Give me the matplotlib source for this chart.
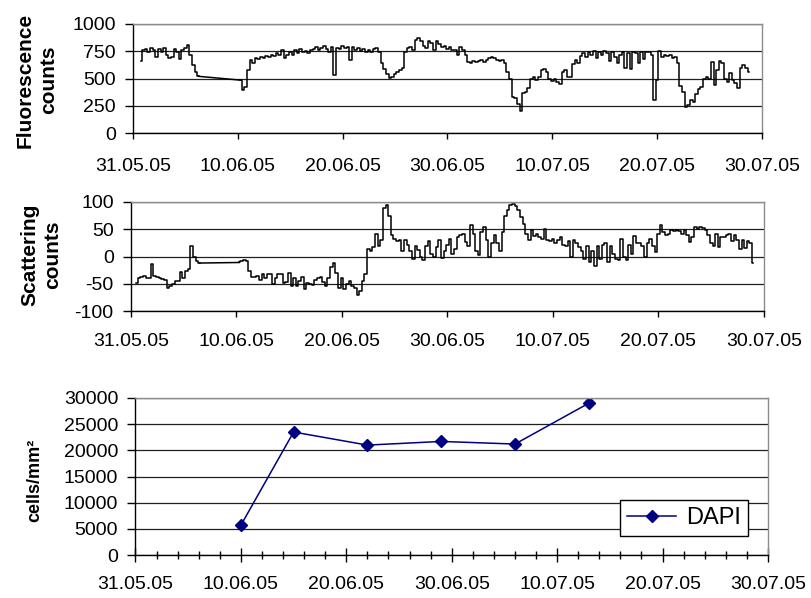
import numpy as np
import pandas as pd
import matplotlib
matplotlib.use('Agg')
import matplotlib.pyplot as plt
from matplotlib.ticker import MultipleLocator

plt.rcParams['font.family'] = ['Liberation Sans', 'DejaVu Sans']
plt.rcParams['axes.unicode_minus'] = False

# ---------------------------------------------------------------
# data (day offsets from 31.05.05, samples every 6 h)
start_date = pd.Timestamp('2005-05-31')
step = 0.25
xtick_labels = ['31.05.05', '10.06.05', '20.06.05', '30.06.05',
                '10.07.05', '20.07.05', '30.07.05']

fluo_start1 = 0.75
fluo_seg1 = [660, 760, 770, 745, 780, 760, 700, 770, 745, 780, 720, 690,
             700, 770, 740, 680, 760, 780, 810, 720, 620, 560, 520]
fluo_start2 = 10.25
fluo_seg2 = [485, 390, 420, 580, 670, 640, 690, 680, 700, 690, 710, 700,
             720, 710, 730, 720, 760, 690, 720, 740, 720, 760, 730, 770,
             740, 750, 730, 760, 770, 790, 760, 780, 800, 770, 740, 790,
             530, 780, 770, 800, 780, 790, 670, 790, 760, 780, 750, 770,
             740, 760, 740, 770, 780, 740, 640, 590, 540, 505, 510, 540,
             560, 580, 600, 740, 780, 790, 760, 850, 870, 840, 800, 780,
             840, 830, 760, 840, 820, 790, 800, 770, 790, 760, 760, 720,
             790, 760, 720, 650, 640, 660, 650, 660, 670, 650, 670, 690,
             700, 690, 670, 660, 670, 640, 560, 500, 330, 320, 270, 200,
             370, 380, 410, 500, 510, 490, 510, 580, 590, 560, 500, 480,
             500, 470, 450, 560, 580, 510, 510, 630, 670, 640, 710, 730,
             700, 740, 720, 750, 690, 740, 720, 750, 730, 660, 740, 700,
             640, 720, 740, 600, 730, 590, 740, 730, 640, 740, 680, 740,
             740, 720, 300, 490, 750, 700, 720, 710, 720, 690, 700, 640,
             430, 380, 240, 260, 300, 280, 360, 400, 420, 500, 510, 500,
             650, 440, 580, 660, 640, 500, 470, 550, 490, 460, 410, 600,
             620, 600, 560]

scat_start1 = 0.5
scat_seg1 = [-48, -40, -37, -35, -40, -40, -14, -35, -38, -40, -42, -44,
             -58, -55, -51, -45, -45, -28, -40, -27, -23, 20, -1, -8, -12]
scat_start2 = 10.25
scat_seg2 = [-11, -8, -7, -9, -26, -38, -37, -35, -43, -32, -40, -33,
             -32, -50, -40, -32, -32, -48, -47, -30, -54, -40, -55, -45,
             -38, -60, -48, -50, -52, -44, -40, -38, -47, -55, -40, -20,
             -12, -30, -57, -40, -60, -50, -45, -54, -58, -70, -64, -45,
             -32, 14, 11, 18, 42, 20, 30, 89, 94, 75, 40, 32,
             28, 30, 10, 30, 22, 10, -4, 20, 12, 0, -7, 20,
             28, 5, 0, 17, 30, -3, 10, 22, 32, 5, 14, 35,
             39, 42, 27,
             20, 58, 42, 10, 2, 45, 55, 30, -1, 25, 40, 25,
             10, 45, 75, 85, 95, 97, 92, 85, 73, 60, 42, 30,
             48, 38, 42, 35, 32, 50, 30, 28, 32, 25, 30, 35,
             22, 20, 28, 0, 30, 25, 18, 10, -4, 20, -10, 10,
             -17, 20, -5, 22, 25, -10, 20, 5, -5, -6, 33, 0,
             -7, 22, 5, 38, 25, 24, 20, -1, 25, 32, 20, 8,
             42, 58, 45, 40, 42, 48, 47, 48, 46, 42, 48, 40,
             27, 35, 55, 50, 55, 52, 48, 40, 25, 20, 42, 17,
             36, 36, 40, 42, 28, 40, 30, 14, 30, 15, 28, 25, -12]

dapi_dates = ['2005-06-10', '2005-06-15', '2005-06-22', '2005-06-29',
              '2005-07-06', '2005-07-13']
dapi_vals = [5700, 23500, 21000, 21700, 21200, 29000]

# ---------------------------------------------------------------
W, H = 812, 598
fig = plt.figure(figsize=(W / 100, H / 100), dpi=100)


def px_axes(left, right, top, bottom):
    return fig.add_axes([left / W, 1 - bottom / H, (right - left) / W,
                         (bottom - top) / H])


def style(ax, yticks, pad_x):
    ax.set_xlim(0, 60)
    ax.set_ylim(yticks[0], yticks[-1])
    ax.set_yticks(yticks)
    ax.set_xticks(np.arange(0, 61, 10))
    ax.set_xticklabels(xtick_labels)
    ax.yaxis.grid(True, color='#202020', lw=0.9)
    ax.set_axisbelow(True)
    for s in ('top', 'right'):
        ax.spines[s].set_color('#8c8c8c')
        ax.spines[s].set_linewidth(1.0)
    for s in ('left', 'bottom'):
        ax.spines[s].set_color('black')
        ax.spines[s].set_linewidth(1.0)
    ax.tick_params(axis='y', direction='out', length=5.5, width=1,
                   pad=7, labelsize=14)
    ax.tick_params(axis='x', direction='out', length=4, width=1,
                   pad=pad_x, labelsize=14)


def plot_series(ax, s1, v1, s2, v2):
    # measured stretches drawn as steps, the data gap as a plain line
    t1 = s1 + step * np.arange(len(v1))
    t2 = s2 + step * np.arange(len(v2))
    ax.plot(t1, v1, color='black', lw=1.1, drawstyle='steps-mid')
    ax.plot([t1[-1], t2[0]], [v1[-1], v2[0]], color='black', lw=1.1)
    ax.plot(t2, v2, color='black', lw=1.1, drawstyle='steps-mid')


ax1 = px_axes(133, 762, 24, 133)
style(ax1, [0, 250, 500, 750, 1000], 14)
plot_series(ax1, fluo_start1, fluo_seg1, fluo_start2, fluo_seg2)

ax2 = px_axes(131, 764, 202, 311)
style(ax2, [-100, -50, 0, 50, 100], 12)
plot_series(ax2, scat_start1, scat_seg1, scat_start2, scat_seg2)

ax3 = px_axes(135.5, 768, 398, 555)
style(ax3, [0, 5000, 10000, 15000, 20000, 25000, 30000], 10)
ax3.xaxis.set_minor_locator(MultipleLocator(2))
ax3.tick_params(axis='x', which='major', direction='inout', length=10)
ax3.tick_params(axis='x', which='minor', direction='inout', length=6,
                width=1)
dapi_x = [(pd.Timestamp(d) - start_date).days for d in dapi_dates]
ax3.plot(dapi_x, dapi_vals, color='#000080', lw=1.1, marker='D',
         markersize=6, label='DAPI')
leg = ax3.legend(loc='lower right', bbox_to_anchor=(0.968, 0.121),
                 borderaxespad=0, fancybox=False, framealpha=1,
                 edgecolor='black', fontsize=17, handlelength=2.1,
                 handletextpad=0.4, borderpad=0.3)
leg.get_frame().set_linewidth(1.0)

# y axis titles
fig.text(37 / W, 1 - 80 / H, 'Fluorescence\ncounts', rotation=90,
         ha='center', va='center', fontsize=15, fontweight='bold',
         linespacing=1.25)
fig.text(41 / W, 1 - 255 / H, 'Scattering\ncounts', rotation=90,
         ha='center', va='center', fontsize=15, fontweight='bold',
         linespacing=1.25)
fig.text(35 / W, 1 - 480 / H, 'cells/mm²', rotation=90,
         ha='center', va='center', fontsize=13, fontweight='bold')

fig.savefig('out.png', dpi=100)
